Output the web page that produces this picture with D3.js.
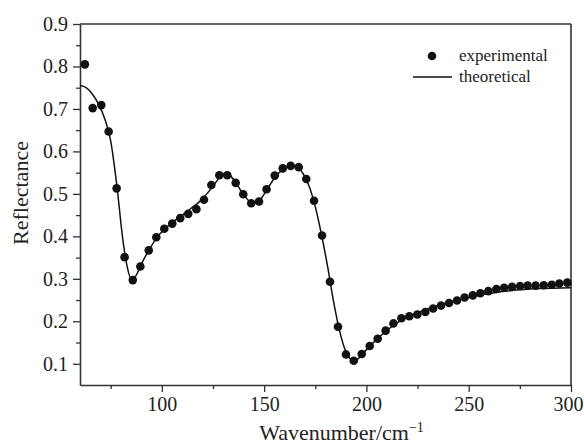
<!DOCTYPE html>
<html>
<head>
<meta charset="utf-8">
<script src="https://cdn.jsdelivr.net/npm/d3@7"></script>
<style>
  body { margin: 0; background: #fff; }
  text { font-family: "Liberation Serif", "Times New Roman", serif; fill: #222; }
</style>
</head>
<body>
<div id="chart"></div>
<script>
// experimental points
const expWavenumber = [62.4, 66.2, 70.4, 74.0, 77.9, 81.8, 85.8, 89.5, 93.6, 97.3,
  101.2, 105.1, 109.0, 112.9, 116.9, 120.6, 124.2, 128.1, 132.0, 136.1,
  139.8, 143.7, 147.5, 151.2, 155.2, 159.1, 163.0, 166.9, 170.6, 174.4,
  178.3, 182.2, 186.1, 190.0, 193.8, 197.7, 201.6, 205.5, 209.4, 213.2,
  217.1, 221.0, 224.9, 228.8, 232.6, 236.5, 240.4, 244.3, 248.0, 252.0,
  255.7, 259.6, 263.5, 267.3, 271.2, 275.1, 278.8, 282.7, 286.7, 290.6,
  294.3, 298.2];
const expReflectance = [0.805, 0.702, 0.709, 0.647, 0.513, 0.351, 0.297, 0.329, 0.367, 0.398,
  0.418, 0.430, 0.443, 0.453, 0.464, 0.486, 0.521, 0.544, 0.544, 0.526,
  0.499, 0.478, 0.482, 0.511, 0.543, 0.560, 0.566, 0.563, 0.535, 0.484,
  0.402, 0.293, 0.187, 0.122, 0.107, 0.123, 0.142, 0.159, 0.178, 0.195,
  0.207, 0.212, 0.216, 0.222, 0.230, 0.237, 0.243, 0.249, 0.256, 0.261,
  0.266, 0.271, 0.276, 0.279, 0.281, 0.283, 0.284, 0.284, 0.285, 0.286,
  0.289, 0.291];

// theoretical curve
const theoWavenumber = [60, 63, 66, 69, 72, 75, 78, 81, 83, 85,
  87, 90, 94, 98, 102, 106, 110, 114, 118, 122,
  126, 129, 131, 134, 137, 140, 143, 145, 148, 151,
  155, 159, 163, 166, 169, 172, 175, 178, 181, 184,
  187, 190, 192, 194, 196, 199, 203, 207, 212, 218,
  225, 235, 245, 255, 265, 275, 285, 300];
const theoReflectance = [0.755, 0.750, 0.735, 0.712, 0.678, 0.625, 0.520, 0.390, 0.330, 0.300,
  0.305, 0.335, 0.370, 0.400, 0.420, 0.436, 0.450, 0.465, 0.480, 0.500,
  0.525, 0.542, 0.548, 0.540, 0.520, 0.498, 0.482, 0.479, 0.486, 0.507,
  0.537, 0.557, 0.566, 0.563, 0.548, 0.518, 0.470, 0.405, 0.330, 0.245,
  0.175, 0.128, 0.112, 0.107, 0.112, 0.128, 0.148, 0.166, 0.186, 0.205,
  0.220, 0.237, 0.250, 0.261, 0.269, 0.274, 0.277, 0.279];

const xTicks = [100, 150, 200, 250, 300];
const xMinorTicks = [75, 125, 175, 225, 275];
const yTicks = [0.1, 0.2, 0.3, 0.4, 0.5, 0.6, 0.7, 0.8, 0.9];
const yMinorTicks = [0.15, 0.25, 0.35, 0.45, 0.55, 0.65, 0.75, 0.85];

const width = 584, height = 445;
const margin = { top: 24, right: 13, bottom: 60, left: 80 };

const svg = d3.select("#chart").append("svg")
  .attr("width", width)
  .attr("height", height);

const x = d3.scaleLinear().domain([60, 300]).range([margin.left, width - margin.right]);
const y = d3.scaleLinear().domain([0.05, 0.9]).range([height - margin.bottom, margin.top]);

svg.append("clipPath").attr("id", "clip")
  .append("rect")
  .attr("x", margin.left).attr("y", margin.top)
  .attr("width", x.range()[1] - margin.left)
  .attr("height", y.range()[0] - margin.top);

// minor ticks
svg.append("g")
  .attr("transform", `translate(0,${height - margin.bottom})`)
  .call(d3.axisBottom(x).tickValues(xMinorTicks).tickSize(4).tickFormat(""))
  .call(g => g.select(".domain").remove())
  .selectAll("line").attr("stroke", "#333").attr("stroke-width", 1.3);

svg.append("g")
  .attr("transform", `translate(${margin.left},0)`)
  .call(d3.axisLeft(y).tickValues(yMinorTicks).tickSize(4).tickFormat(""))
  .call(g => g.select(".domain").remove())
  .selectAll("line").attr("stroke", "#333").attr("stroke-width", 1.3);

// major axes
const xAxis = svg.append("g")
  .attr("transform", `translate(0,${height - margin.bottom})`)
  .call(d3.axisBottom(x).tickValues(xTicks).tickSize(7).tickSizeOuter(0).tickPadding(5));
xAxis.selectAll("text").style("font-size", "20px").attr("fill", "#222")
  .attr("dx", d => d === 300 ? -3 : 0);

const yAxis = svg.append("g")
  .attr("transform", `translate(${margin.left},0)`)
  .call(d3.axisLeft(y).tickValues(yTicks).tickSize(7).tickSizeOuter(0).tickPadding(5).tickFormat(d3.format(".1f")));
yAxis.selectAll("text").style("font-size", "20px").attr("fill", "#222");

svg.selectAll(".domain").attr("stroke", "#333").attr("stroke-width", 1.6);
svg.selectAll(".tick line").attr("stroke", "#333").attr("stroke-width", 1.3);

// top and right frame
svg.append("line")
  .attr("x1", margin.left).attr("x2", x.range()[1])
  .attr("y1", margin.top).attr("y2", margin.top)
  .attr("stroke", "#333").attr("stroke-width", 1.6);
svg.append("line")
  .attr("x1", x.range()[1]).attr("x2", x.range()[1])
  .attr("y1", margin.top).attr("y2", y.range()[0])
  .attr("stroke", "#333").attr("stroke-width", 1.6);

// theoretical line
const theo = theoWavenumber.map((w, i) => ({ w: w, r: theoReflectance[i] }));
const line = d3.line()
  .x(d => x(d.w))
  .y(d => y(d.r))
  .curve(d3.curveMonotoneX);

svg.append("path")
  .datum(theo)
  .attr("clip-path", "url(#clip)")
  .attr("d", line)
  .attr("fill", "none")
  .attr("stroke", "#111")
  .attr("stroke-width", 1.5);

// experimental points
const exp = expWavenumber.map((w, i) => ({ w: w, r: expReflectance[i] }));
svg.append("g")
  .selectAll("circle")
  .data(exp)
  .enter()
  .append("circle")
  .attr("cx", d => x(d.w))
  .attr("cy", d => y(d.r))
  .attr("r", 4.3)
  .attr("fill", "#111");

// axis titles
svg.append("text")
  .attr("x", (margin.left + x.range()[1]) / 2 + 16)
  .attr("y", 440)
  .attr("text-anchor", "middle")
  .style("font-size", "22px")
  .html('Wavenumber/cm<tspan dy="-8" font-size="14px">−1</tspan>');

svg.append("text")
  .attr("transform", "rotate(-90)")
  .attr("x", -193)
  .attr("y", 28)
  .attr("text-anchor", "middle")
  .style("font-size", "22px")
  .text("Reflectance");

// legend
const legend = svg.append("g");
legend.append("circle")
  .attr("cx", 432).attr("cy", 56).attr("r", 4.3).attr("fill", "#111");
legend.append("line")
  .attr("x1", 413).attr("x2", 452).attr("y1", 77).attr("y2", 77)
  .attr("stroke", "#111").attr("stroke-width", 1.5);
legend.append("text")
  .attr("x", 459).attr("y", 61)
  .style("font-size", "17px")
  .text("experimental");
legend.append("text")
  .attr("x", 459).attr("y", 82)
  .style("font-size", "17px")
  .text("theoretical");
</script>
</body>
</html>
